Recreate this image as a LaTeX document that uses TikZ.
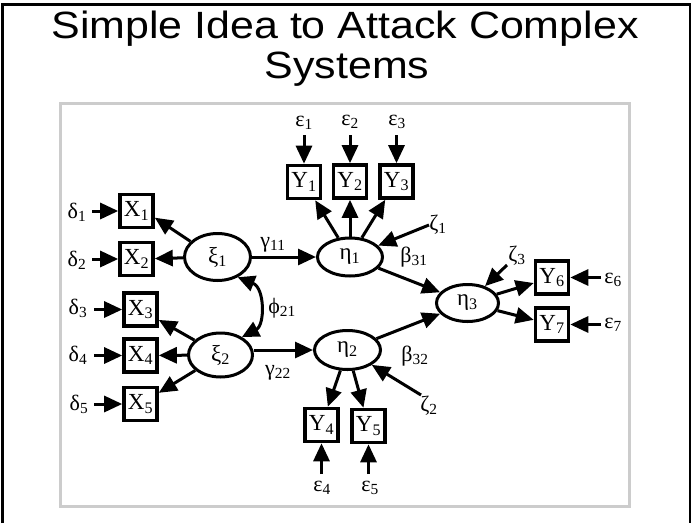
\documentclass[tikz,border=0pt]{standalone}
\usepackage{fontspec}
\usetikzlibrary{arrows.meta,shapes.geometric}
\newfontfamily\titlefont{Liberation Sans}
\newfontfamily\semfont{Liberation Serif}
\newcommand\lsub[1]{\textsubscript{#1}}
\tikzset{
  obs/.style={draw, line width=3.6pt, minimum width=33pt, minimum height=33pt,
    inner sep=0pt, font=\semfont\fontsize{23}{23}\selectfont},
  lat/.style={draw, ellipse, line width=3pt, inner sep=0pt,
    font=\semfont\fontsize{23}{23}\selectfont},
  arr/.style={line width=3pt, -{Triangle[length=18pt,width=16pt]}},
  darr/.style={line width=3pt,
    {Triangle[length=17pt,width=16pt]}-{Triangle[length=17pt,width=16pt]}},
  lbl/.style={inner sep=0pt, font=\semfont\fontsize{22}{22}\selectfont},
  ttl/.style={inner sep=0pt, anchor=base, font=\titlefont\fontsize{38}{38}\selectfont},
}
\begin{document}
\begin{tikzpicture}[x=1pt,y=-1pt]
\useasboundingbox (0,0) rectangle (694,523);

% slide frame, open at the bottom
\draw[line width=2.5pt] (2.5,523) -- (2.5,4.5) -- (690,4.5) -- (690,523);

% title
\node[ttl] (t1) at (345,38) {\scalebox{1.13}[1]{Simple Idea to Attack Complex}};
\node[ttl] (t2) at (347,78) {\scalebox{1.13}[1]{Systems}};

% picture frame
\draw[gray!40, line width=3pt] (60,103) rectangle (629,506);

% observed variables
\node[obs] (X1) at (136.5,211) {X\lsub{1}};
\node[obs] (X2) at (136.5,259) {X\lsub{2}};
\node[obs] (X3) at (140.5,309.5) {X\lsub{3}};
\node[obs] (X4) at (140.5,355.5) {X\lsub{4}};
\node[obs] (X5) at (140.5,404) {X\lsub{5}};
\node[obs] (Y1) at (304,182) {Y\lsub{1}};
\node[obs] (Y2) at (350,181.5) {Y\lsub{2}};
\node[obs] (Y3) at (396.5,181.5) {Y\lsub{3}};
\node[obs] (Y4) at (321.5,425) {Y\lsub{4}};
\node[obs] (Y5) at (368.5,426) {Y\lsub{5}};
\node[obs] (Y6) at (552,277.5) {Y\lsub{6}};
\node[obs] (Y7) at (552,324.5) {Y\lsub{7}};

% latent variables
\node[lat, minimum width=66pt, minimum height=47pt] (xi1) at (217.5,257) {ξ\lsub{1}};
\node[lat, minimum width=64pt, minimum height=44pt] (xi2) at (220.5,355) {ξ\lsub{2}};
\node[lat, minimum width=65pt, minimum height=38pt] (eta1) at (350,257) {η\lsub{1}};
\node[lat, minimum width=66pt, minimum height=39pt] (eta2) at (347.5,350) {η\lsub{2}};
\node[lat, minimum width=62pt, minimum height=37pt] (eta3) at (467.5,303) {η\lsub{3}};

% error terms
\node[lbl] (d1) at (77,212) {δ\lsub{1}};
\node[lbl] (d2) at (77,260) {δ\lsub{2}};
\node[lbl] (d3) at (78,308) {δ\lsub{3}};
\node[lbl] (d4) at (78,355) {δ\lsub{4}};
\node[lbl] (d5) at (79,404) {δ\lsub{5}};
\node[lbl] (e1) at (304,123) {ε\lsub{1}};
\node[lbl] (e2) at (350,122) {ε\lsub{2}};
\node[lbl] (e3) at (397,122) {ε\lsub{3}};
\node[lbl] (e4) at (322,488) {ε\lsub{4}};
\node[lbl] (e5) at (370,488) {ε\lsub{5}};
\node[lbl] (e6) at (613,280) {ε\lsub{6}};
\node[lbl] (e7) at (613,325) {ε\lsub{7}};
\node[lbl] (z1) at (438,225) {ζ\lsub{1}};
\node[lbl] (z2) at (429,406) {ζ\lsub{2}};
\node[lbl] (z3) at (517,256) {ζ\lsub{3}};

% path coefficients
\node[lbl] (g11) at (273,245) {γ\lsub{11}};
\node[lbl] (g22) at (278,373) {γ\lsub{22}};
\node[lbl] (p21) at (282,308) {ϕ\lsub{21}};
\node[lbl] (b31) at (414,257) {β\lsub{31}};
\node[lbl] (b32) at (415,356) {β\lsub{32}};

% free ends of the error arrows
\coordinate (d1s) at (92,211);
\coordinate (d2s) at (92,259);
\coordinate (d3s) at (94,309.5);
\coordinate (d4s) at (94,355.5);
\coordinate (d5s) at (94,404);
\coordinate (e1s) at (304,135);
\coordinate (e2s) at (350,135);
\coordinate (e3s) at (396.5,135);
\coordinate (e4s) at (321.5,474);
\coordinate (e5s) at (368.5,474);
\coordinate (e6s) at (601,277.5);
\coordinate (e7s) at (601,324.5);
\coordinate (z1s) at (429,225);
\coordinate (z2s) at (421,395);
\coordinate (z3s) at (507,265);

% error arrows
\draw[arr] (d1s) -- (X1);
\draw[arr] (d2s) -- (X2);
\draw[arr] (d3s) -- (X3);
\draw[arr] (d4s) -- (X4);
\draw[arr] (d5s) -- (X5);
\draw[arr] (e1s) -- (Y1);
\draw[arr] (e2s) -- (Y2);
\draw[arr] (e3s) -- (Y3);
\draw[arr] (e4s) -- (Y4);
\draw[arr] (e5s) -- (Y5);
\draw[arr] (e6s) -- (Y6);
\draw[arr] (e7s) -- (Y7);
\draw[arr] (z1s) -- (eta1);
\draw[arr] (z2s) -- (eta2);
\draw[arr] (z3s) -- (eta3);

% measurement model
\draw[arr] (xi1.150) -- (X1.-20);
\draw[arr] (xi1) -- (X2);
\draw[arr] (xi2) -- (X3);
\draw[arr] (xi2) -- (X4);
\draw[arr] (xi2) -- (X5);
\draw[arr] (eta1) -- (Y1);
\draw[arr] (eta1) -- (Y2);
\draw[arr] (eta1) -- (Y3);
\draw[arr] (eta2) -- (Y4);
\draw[arr] (eta2) -- (Y5);
\draw[arr] (eta3) -- (Y6);
\draw[arr] (eta3) -- (Y7);

% structural model
\draw[arr] (xi1) -- (eta1);
\draw[arr] (xi2.east |- eta2) -- (eta2.west);
\draw[arr] (eta1) -- (eta3);
\draw[arr] (eta2) -- (eta3);
\draw[darr] (xi1.-45) .. controls (265,288) and (265,325) .. (xi2.40);
\end{tikzpicture}
\end{document}
